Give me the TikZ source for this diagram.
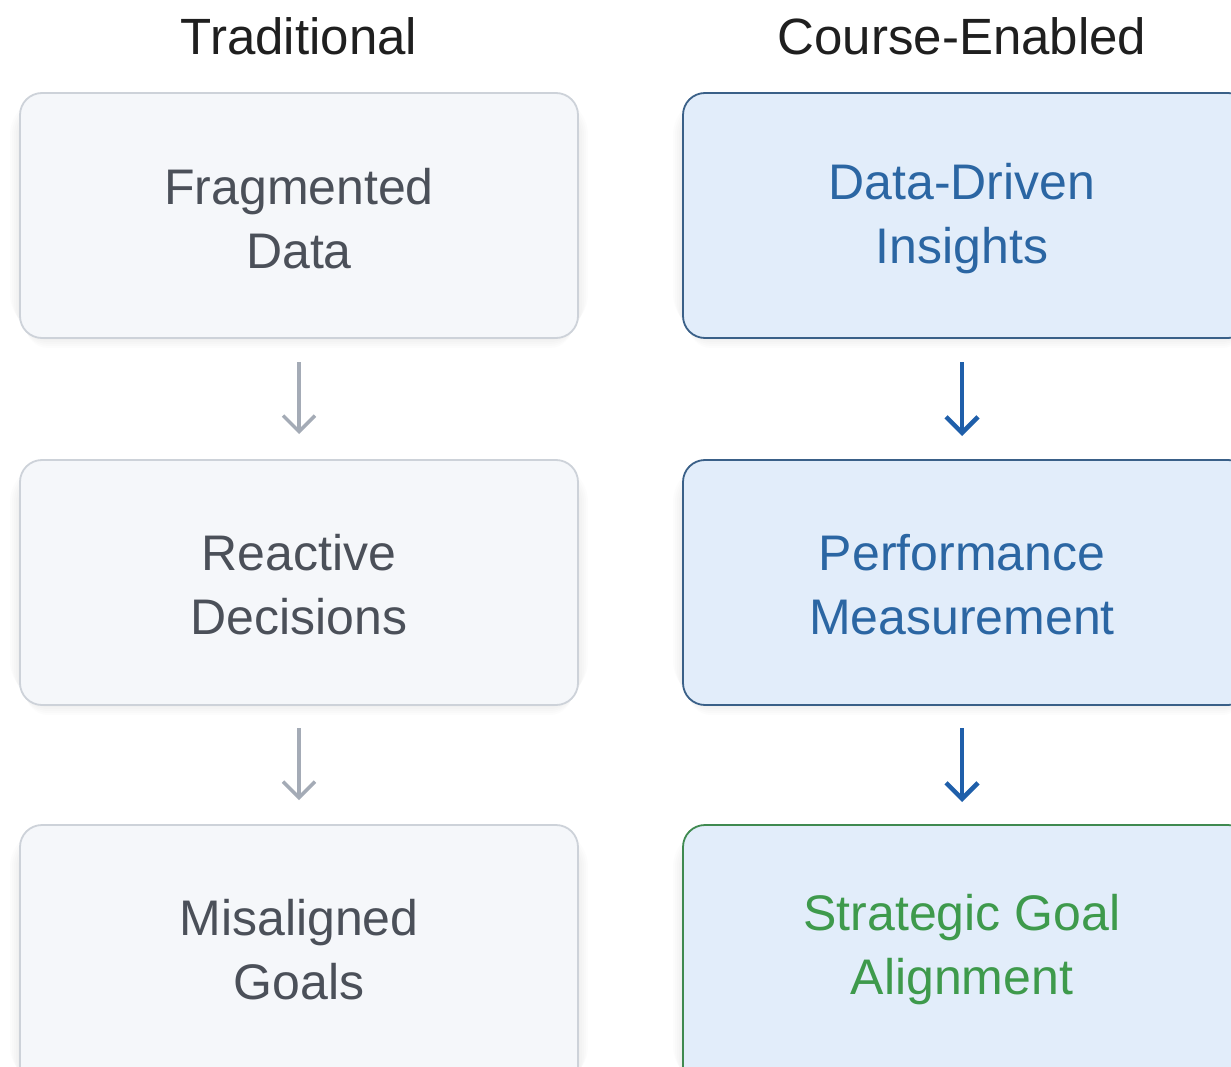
\documentclass[tikz,border=0pt]{standalone}
\usepackage{fontspec}
\setmainfont{Liberation Sans}
\usetikzlibrary{arrows.meta}
\definecolor{lfill}{HTML}{F5F7FA}
\definecolor{ldraw}{HTML}{CDD2D9}
\definecolor{ltext}{HTML}{4B5059}
\definecolor{rfill}{HTML}{E2EDFA}
\definecolor{rdraw}{HTML}{3A6088}
\definecolor{rtext}{HTML}{2B66A3}
\definecolor{gdraw}{HTML}{3F8A50}
\definecolor{gtext}{HTML}{3E9A4C}
\definecolor{larrow}{HTML}{A4ABB6}
\definecolor{rarrow}{HTML}{1F5FAA}
\tikzset{
  box/.style={rounded corners=22pt, line width=1.8pt},
  lbox/.style={box, fill=lfill, draw=ldraw},
  rbox/.style={box, fill=rfill, draw=rdraw},
  gbox/.style={box, fill=rfill, draw=gdraw},
  shd/.style={fill=black, fill opacity=0.012, draw=none},
  lbl/.style={align=center, font=\fontsize{50}{64}\selectfont},
  ttl/.style={font=\fontsize{51}{56}\selectfont, text=black!88},
  larr/.style={draw=larrow, line width=3.5pt, -{Straight Barb[length=16pt,width=32pt,line width=3.5pt]}},
  rarr/.style={draw=rarrow, line width=4.5pt, -{Straight Barb[length=16pt,width=32pt,line width=4.5pt]}}
}
\newcommand{\softshadow}[4]{%
  \foreach \k in {0,2,...,16}{%
    \fill[shd, rounded corners={22pt+(16-\k)*1pt}] (#1+\k-10,#2+\k+4) rectangle (#3-\k+10,#4+\k-6);
  }%
}
\begin{document}
\begin{tikzpicture}[x=1pt,y=-1pt]
\useasboundingbox (0,0) rectangle (1231,1067);
\clip (0,0) rectangle (1231,1067);
\fill[white] (0,0) rectangle (1231,1067);
\node[ttl] (t1) at (299,36) {Traditional};
\node[ttl] (t2) at (962,36) {Course-Enabled};
% shadows
\softshadow{20}{93}{578}{338}
\softshadow{20}{460}{578}{705}
\softshadow{20}{825}{578}{1090}
\softshadow{683}{93}{1250}{338}
\softshadow{683}{460}{1250}{705}
\softshadow{683}{825}{1250}{1090}
% left boxes
\draw[lbox] (20,93) rectangle (578,338);
\draw[lbox] (20,460) rectangle (578,705);
\draw[lbox] (20,825) rectangle (578,1090);
% right boxes
\draw[rbox] (683,93) rectangle (1250,338);
\draw[rbox] (683,460) rectangle (1250,705);
\draw[gbox] (683,825) rectangle (1250,1090);
\node[lbl, text=ltext] (a1) at (299,219) {Fragmented\\Data};
\node[lbl, text=ltext] (a2) at (299,585) {Reactive\\Decisions};
\node[lbl, text=ltext] (a3) at (299,950) {Misaligned\\Goals};
\node[lbl, text=rtext] (b1) at (962,219) {Data-Driven\\Insights};
\node[lbl, text=rtext] (b2) at (962,585) {Performance\\Measurement};
\node[lbl, text=gtext] (b3) at (962,950) {Strategic Goal\\Alignment};
\coordinate (la1) at (299,362); \coordinate (la2) at (299,434);
\coordinate (la3) at (299,728); \coordinate (la4) at (299,800);
\coordinate (ra1) at (962,362); \coordinate (ra2) at (962,436);
\coordinate (ra3) at (962,728); \coordinate (ra4) at (962,802);
\draw[larr] (la1) -- (la2);
\draw[larr] (la3) -- (la4);
\draw[rarr] (ra1) -- (ra2);
\draw[rarr] (ra3) -- (ra4);
\end{tikzpicture}
\end{document}
